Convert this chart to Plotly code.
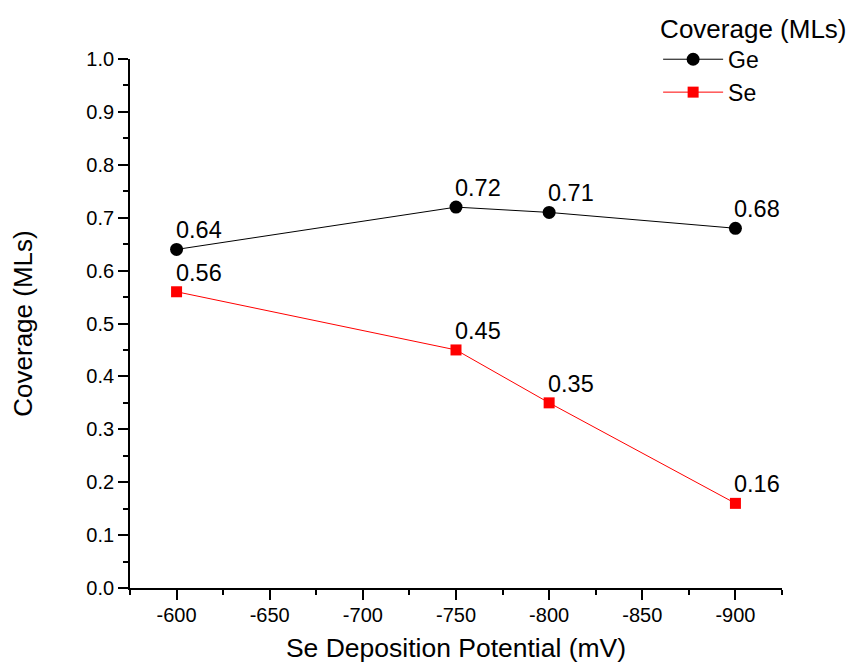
import plotly.graph_objects as go

potential = [-600, -750, -800, -900]
ge_cov = [0.64, 0.72, 0.71, 0.68]
se_cov = [0.56, 0.45, 0.35, 0.16]
ge_labels = ["0.64", "0.72", "0.71", "0.68"]
se_labels = ["0.56", "0.45", "0.35", "0.16"]
x_tickvals = [-600, -650, -700, -750, -800, -850, -900]
x_ticktext = ["-600", "-650", "-700", "-750", "-800", "-850", "-900"]

font = "Liberation Sans, Arial, sans-serif"

fig = go.Figure()
fig.add_trace(go.Scatter(
    x=potential, y=ge_cov, name="Ge", mode="lines+markers",
    line=dict(color="black", width=1),
    marker=dict(symbol="circle", size=13, color="black"),
))
fig.add_trace(go.Scatter(
    x=potential, y=se_cov, name="Se", mode="lines+markers",
    line=dict(color="red", width=1),
    marker=dict(symbol="square", size=11, color="red"),
))

for xs, ys, labels in [(potential, ge_cov, ge_labels), (potential, se_cov, se_labels)]:
    for xv, yv, t in zip(xs, ys, labels):
        fig.add_annotation(
            x=xv, y=yv, text=t, showarrow=False,
            xanchor="left", yanchor="bottom", xshift=-3, yshift=4,
            font=dict(size=23.5, color="black", family=font),
        )

fig.update_layout(
    width=849, height=657,
    margin=dict(l=122, r=75, t=51, b=77, autoexpand=False),
    plot_bgcolor="white", paper_bgcolor="white",
    font=dict(family=font, size=20, color="black"),
    legend=dict(
        title=dict(text="Coverage (MLs)", font=dict(size=26)),
        x=0.81, y=1.104, xanchor="left", yanchor="top",
        font=dict(size=23), bgcolor="rgba(0,0,0,0)",
        tracegroupgap=0, itemwidth=60,
    ),
    xaxis=dict(
        range=[-575, -925], tickvals=x_tickvals, ticktext=x_ticktext,
        ticks="outside", ticklen=10, tickwidth=1.8, tickcolor="black",
        showline=True, linecolor="black", linewidth=1.8,
        showgrid=False, zeroline=False,
        tickfont=dict(size=20), ticklabelstandoff=-2,
        minor=dict(dtick=25, tick0=-575, ticks="outside", ticklen=5, tickwidth=1.8, tickcolor="black", showgrid=False),
        title=dict(text="Se Deposition Potential (mV)", font=dict(size=26.5), standoff=14),
    ),
    yaxis=dict(
        range=[0, 1.0], dtick=0.1, tickformat=".1f",
        ticks="outside", ticklen=10, tickwidth=1.8, tickcolor="black",
        showline=True, linecolor="black", linewidth=1.8,
        showgrid=False, zeroline=False,
        tickfont=dict(size=20),
        minor=dict(dtick=0.05, ticks="outside", ticklen=5, tickwidth=1.8, tickcolor="black", showgrid=False),
        title=dict(text="Coverage (MLs)", font=dict(size=26), standoff=48),
    ),
    showlegend=True,
)

fig.write_html("out.html")
